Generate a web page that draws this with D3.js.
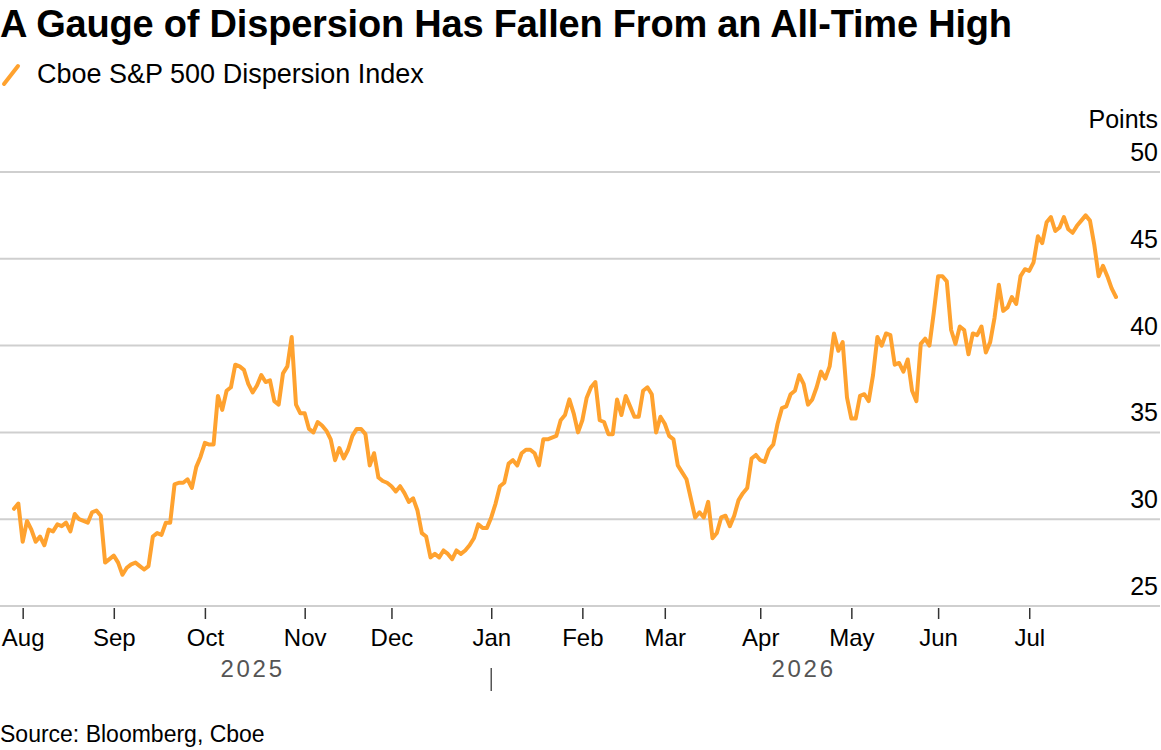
<!DOCTYPE html>
<html>
<head>
<meta charset="utf-8">
<script src="https://cdn.jsdelivr.net/npm/d3@7"></script>
<style>
  body { margin: 0; background: #fff; font-family: "Liberation Sans", Arial, sans-serif; }
  .title { font-size: 38px; font-weight: bold; fill: #000; letter-spacing: -0.2px; }
  .legend-text { font-size: 27px; fill: #000; }
  .axis-text { font-size: 25px; fill: #000; }
  .month-text { font-size: 24px; fill: #000; }
  .year-text { font-size: 24px; fill: #555; letter-spacing: 2.7px; }
  .source { font-size: 23px; fill: #000; }
  .grid line { stroke: #cfcfcf; stroke-width: 2; }
</style>
</head>
<body>
<div id="chart"></div>
<script>
// Cboe S&P 500 Dispersion Index, one value per trading day (late Jul 2025 - Jul 2026)
const values = [
  30.6, 30.9, 28.7, 29.9, 29.4, 28.7, 29.0, 28.5, 29.4, 29.3,
  29.7, 29.6, 29.8, 29.3, 30.3, 30.0, 29.9, 29.8, 30.4, 30.5,
  30.2, 27.5, 27.7, 27.9, 27.5, 26.8, 27.2, 27.4, 27.5, 27.3,
  27.1, 27.3, 29.0, 29.2, 29.1, 29.8, 29.8, 32.0, 32.1, 32.1,
  32.3, 31.8, 33.0, 33.6, 34.4, 34.3, 34.3, 37.1, 36.3, 37.4,
  37.6, 38.9, 38.8, 38.6, 37.8, 37.3, 37.7, 38.3, 37.9, 38.0,
  36.8, 36.6, 38.4, 38.8, 40.5, 36.6, 36.1, 36.1, 35.2, 35.0,
  35.6, 35.4, 35.1, 34.6, 33.4, 34.1, 33.5, 34.0, 34.8, 35.2,
  35.2, 34.9, 33.1, 33.8, 32.4, 32.2, 32.1, 31.9, 31.6, 31.9,
  31.5, 31.0, 31.2, 30.5, 29.2, 29.0, 27.8, 28.0, 27.8, 28.2,
  28.0, 27.7, 28.2, 28.0, 28.2, 28.5, 28.9, 29.7, 29.5, 29.5,
  30.1, 30.9, 31.9, 32.1, 33.2, 33.4, 33.1, 33.8, 34.0, 34.0,
  33.8, 33.1, 34.6, 34.6, 34.7, 34.8, 35.7, 36.0, 36.9, 36.1,
  35.0, 35.7, 37.0, 37.6, 37.9, 35.7, 35.6, 34.9, 34.9, 36.9,
  36.0, 37.1, 36.5, 35.9, 35.9, 37.4, 37.6, 37.2, 35.0, 35.9,
  35.5, 34.8, 34.6, 33.1, 32.7, 32.3, 31.2, 30.1, 30.4, 30.1,
  31.0, 28.9, 29.2, 30.1, 30.2, 29.6, 30.2, 31.1, 31.5, 31.8,
  33.5, 33.7, 33.4, 33.3, 34.0, 34.3, 35.5, 36.4, 36.5, 37.2,
  37.4, 38.3, 37.8, 36.6, 36.9, 37.6, 38.5, 38.1, 38.8, 40.7,
  39.7, 40.2, 37.0, 35.8, 35.8, 37.1, 37.2, 36.8, 38.3, 40.5,
  40.0, 40.7, 40.6, 38.9, 39.0, 38.5, 39.2, 37.4, 36.8, 40.1,
  40.4, 40.0, 41.9, 44.0, 44.0, 43.7, 40.9, 40.1, 41.1, 40.9,
  39.5, 40.7, 40.6, 41.1, 39.6, 40.2, 41.6, 43.5, 42.0, 42.2,
  42.8, 42.4, 44.0, 44.4, 44.3, 44.8, 46.3, 45.9, 47.1, 47.4,
  46.6, 46.8, 47.4, 46.7, 46.5, 46.9, 47.2, 47.5, 47.2, 45.8,
  44.0, 44.6, 44.0, 43.3, 42.8
];

// Month ticks: label and the index of the month's first trading day in values
const monthLabels = ["Aug", "Sep", "Oct", "Nov", "Dec", "Jan", "Feb", "Mar", "Apr", "May", "Jun", "Jul"];
const monthStarts = [2, 23, 44, 67, 87, 110, 131, 150, 172, 193, 213, 234];

const yearLabels = ["2025", "2026"];
const yearBreak = 110; // first trading day of 2026

const yTicks = [25, 30, 35, 40, 45, 50];

class DispersionChart {
  constructor(_config) {
    this.config = {
      parentElement: _config.parentElement,
      containerWidth: _config.containerWidth || 1161,
      containerHeight: _config.containerHeight || 750,
      plotLeft: 14,
      plotRight: 1116,
      plotTop: 172,
      plotBottom: 606,
    };
    this.initVis();
  }

  initVis() {
    let vis = this;
    const c = vis.config;

    vis.svg = d3
      .select(c.parentElement)
      .append("svg")
      .attr("width", c.containerWidth)
      .attr("height", c.containerHeight);

    vis.xScale = d3
      .scaleLinear()
      .domain([0, values.length - 1])
      .range([c.plotLeft, c.plotRight]);

    vis.yScale = d3
      .scaleLinear()
      .domain([d3.min(yTicks), d3.max(yTicks)])
      .range([c.plotBottom, c.plotTop]);

    // Header
    vis.svg
      .append("text")
      .attr("class", "title")
      .attr("x", 0)
      .attr("y", 37)
      .text("A Gauge of Dispersion Has Fallen From an All-Time High");

    vis.svg
      .append("line")
      .attr("x1", 4)
      .attr("y1", 84)
      .attr("x2", 18)
      .attr("y2", 66)
      .attr("stroke", "#ffa22f")
      .attr("stroke-width", 4)
      .attr("stroke-linecap", "round");

    vis.svg
      .append("text")
      .attr("class", "legend-text")
      .attr("x", 37)
      .attr("y", 83)
      .text("Cboe S&P 500 Dispersion Index");

    vis.svg
      .append("text")
      .attr("class", "source")
      .attr("x", 0)
      .attr("y", 742)
      .text("Source: Bloomberg, Cboe");

    vis.renderVis();
  }

  renderVis() {
    let vis = this;
    const c = vis.config;

    // Horizontal gridlines with labels sitting above them on the right
    const grid = vis.svg.append("g").attr("class", "grid");
    grid
      .selectAll("line")
      .data(yTicks)
      .join("line")
      .attr("x1", 0)
      .attr("x2", 1160)
      .attr("y1", (d) => vis.yScale(d))
      .attr("y2", (d) => vis.yScale(d));

    vis.svg
      .selectAll(".y-label")
      .data(yTicks)
      .join("text")
      .attr("class", "axis-text y-label")
      .attr("text-anchor", "end")
      .attr("x", 1158)
      .attr("y", (d) => vis.yScale(d) - 11)
      .text((d) => d);

    vis.svg
      .append("text")
      .attr("class", "axis-text")
      .attr("text-anchor", "end")
      .attr("x", 1158)
      .attr("y", vis.yScale(50) - 44)
      .text("Points");

    // Month ticks along the baseline
    const xAxis = d3
      .axisBottom(vis.xScale)
      .tickValues(monthStarts)
      .tickFormat((d, i) => monthLabels[i])
      .tickSize(11)
      .tickPadding(10)
      .tickSizeOuter(0);

    const xAxisG = vis.svg
      .append("g")
      .attr("transform", `translate(0,${c.plotBottom + 2})`)
      .call(xAxis);
    xAxisG.select(".domain").remove();
    xAxisG.selectAll(".tick line").attr("stroke", "#333").attr("stroke-width", 1.5);
    xAxisG
      .selectAll(".tick text")
      .attr("class", "month-text")
      .style("font-family", "Liberation Sans, Arial, sans-serif")
      .attr("fill", "#000");

    // Year labels centred on each year's span, with a divider at the break
    const yearSpans = [
      [0, yearBreak],
      [yearBreak, values.length - 1],
    ];
    vis.svg
      .selectAll(".year-text")
      .data(yearLabels)
      .join("text")
      .attr("class", "year-text")
      .attr("text-anchor", "middle")
      .attr("x", (d, i) => (vis.xScale(yearSpans[i][0]) + vis.xScale(yearSpans[i][1])) / 2)
      .attr("y", 677)
      .text((d) => d);

    vis.svg
      .append("line")
      .attr("x1", vis.xScale(yearBreak))
      .attr("x2", vis.xScale(yearBreak))
      .attr("y1", 668)
      .attr("y2", 691)
      .attr("stroke", "#555")
      .attr("stroke-width", 1.5);

    // The index line
    const line = d3
      .line()
      .x((d, i) => vis.xScale(i))
      .y((d) => vis.yScale(d));

    vis.svg
      .append("path")
      .datum(values)
      .attr("d", line)
      .attr("fill", "none")
      .attr("stroke", "#ffa22f")
      .attr("stroke-width", 4)
      .attr("stroke-linejoin", "round")
      .attr("stroke-linecap", "round");
  }
}

new DispersionChart({ parentElement: "#chart" });
</script>
</body>
</html>
